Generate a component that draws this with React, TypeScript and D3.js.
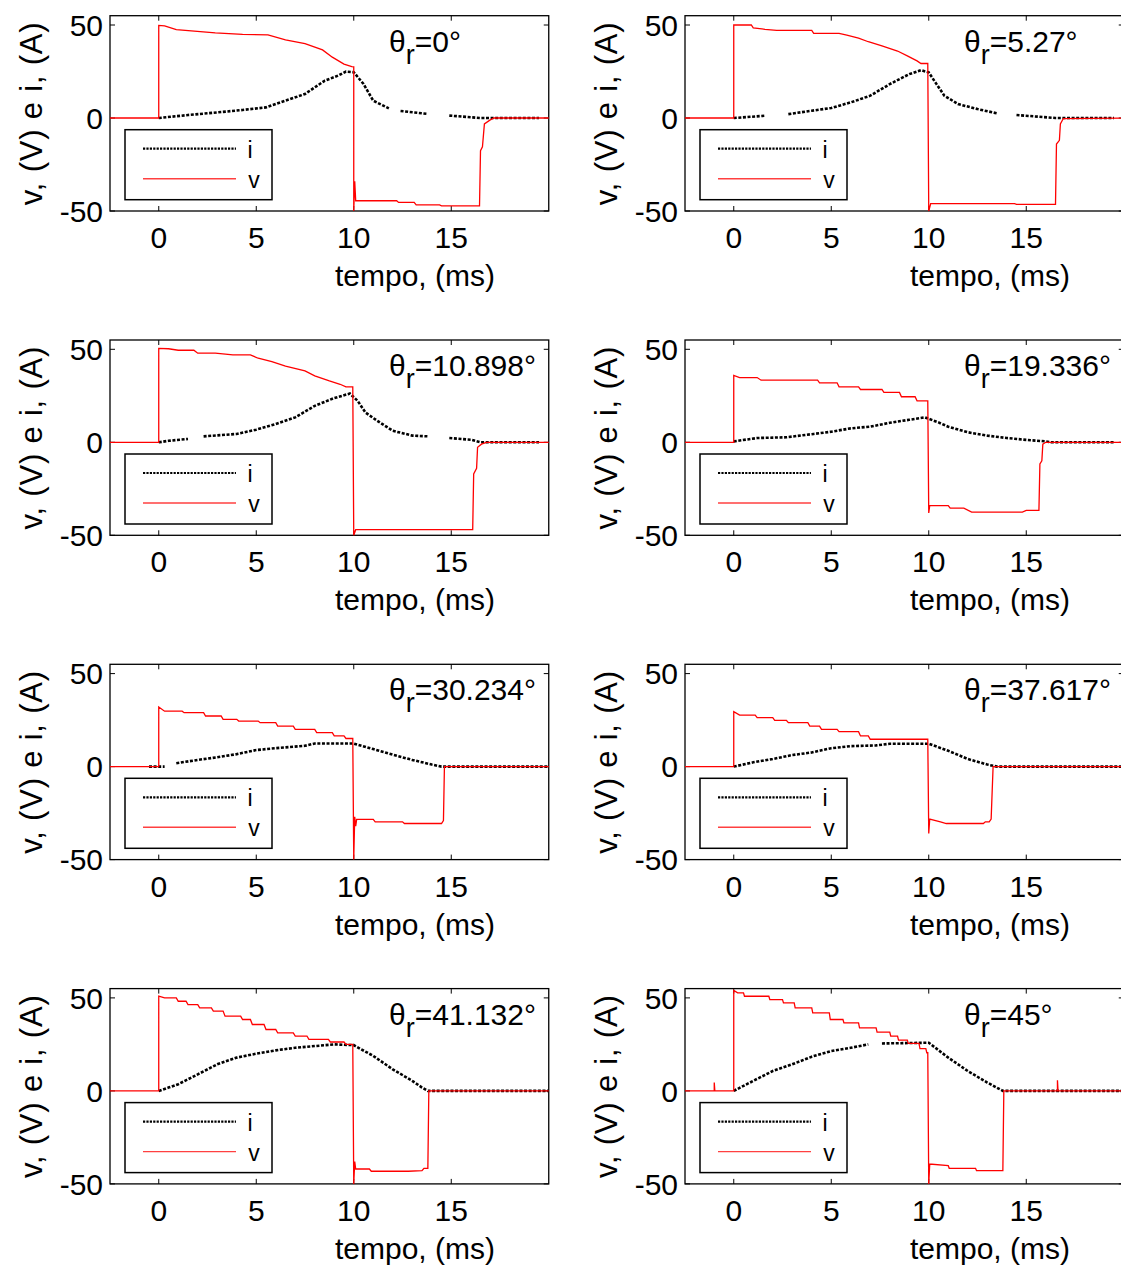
import React from "react";
import * as d3 from "d3";

type P = [number, number];

const xTicks = [0, 5, 10, 15];
const yTicks = [50, 0, -50];
const xDomain: [number, number] = [-2.5, 20];
const yDomain: [number, number] = [-50, 55];
const thetaLabels = ["0", "5.27", "10.898", "19.336", "30.234", "37.617", "41.132", "45"];
const seriesNames = ["i", "v"];

// θr = 0°
const v_0: P[] = [[-2.5,0],[0,0],[0,49.8],[0.3,49.5],[0.9,47.5],[2.9,45.8],[4.3,45],[5.6,44.7],[6.5,42],[7.5,40],[8.4,36.6],[8.9,32.7],[9.5,29],[9.9,27.6],[10,27.5],[10,-50],[10.05,-34],[10.1,-44.5],[12.2,-44.5],[12.3,-45.4],[13.1,-45.4],[13.2,-46.7],[14.4,-46.7],[14.5,-47.2],[16.45,-47.2],[16.5,-17.6],[16.6,-15.5],[16.7,-3.2],[17,-1],[17.2,0],[20,0]];
const i_0: P[] = [[0,0],[1.5,1.6],[3,3],[4.3,4.3],[5.5,5.7],[6.5,9.3],[7.5,12.9],[8.5,20],[9.2,22.8],[9.6,25],[10,24.6],[10.5,18.3],[11,9.3],[11.7,5.7],[11.8,5.2],[12,NaN],[12.4,3.8],[13.8,2.2],[14.3,NaN],[14.9,1.3],[16.5,0],[19.5,0]];
// θr = 5.27°
const v_527: P[] = [[-2.5,0],[0,0],[0,50],[0.9,50],[1,48.5],[1.6,47.7],[2.2,47.1],[4,47.1],[4.1,45.5],[5.4,45.5],[5.8,44.5],[6.4,42.9],[6.9,41],[7.6,38.8],[8.4,36],[8.9,33.4],[9.4,30.7],[9.6,29.3],[9.95,29.3],[10,-50],[10.1,-46],[14.4,-46],[14.5,-46.4],[16.5,-46.4],[16.55,-14],[16.7,-12],[16.75,-3.2],[16.9,-0.3],[20,0]];
const i_527: P[] = [[0,0],[1.6,1.2],[2.2,NaN],[2.8,2.1],[4,3.9],[5,5.4],[6,8.4],[7,12],[8,18.2],[9,23.6],[9.6,25.7],[10,24.5],[10.4,18.2],[10.8,12],[11.5,7.5],[12.5,4.8],[13.5,2.5],[14,NaN],[14.5,1.6],[16.5,0],[19.5,0]];
// θr = 10.898°
const v_10898: P[] = [[-2.5,0],[0,0],[0,50.5],[0.5,50.3],[1,49.5],[1.8,49.5],[2,47.9],[2.9,47.9],[3.8,47],[4.7,47],[5.1,45.2],[5.8,43.4],[6.5,41],[7.5,38.4],[8,35.7],[8.75,33],[9.3,31.2],[9.6,29.8],[9.95,29.8],[10,-50],[10.1,-47],[16.1,-47],[16.15,-17],[16.3,-14],[16.35,-2.7],[16.55,-1],[16.8,0],[20,0]];
const i_10898: P[] = [[0,0],[0.5,0.8],[1.5,1.8],[1.9,NaN],[2.3,3.2],[4,4.5],[5,6.8],[6,9.8],[7,13.4],[8,19.6],[9,23.8],[9.8,26.2],[10.2,22.3],[10.6,16],[11.2,11.6],[12,6.2],[13,3.6],[13.8,3.2],[14.3,NaN],[14.9,2.3],[16,1.4],[16.5,0],[19.5,0]];
// θr = 19.336°
const v_19336: P[] = [[-2.5,0],[0,0],[0,36],[0.3,34.8],[1.2,34.8],[1.4,33.4],[4.3,33.4],[4.4,32],[5.3,32],[5.4,29.8],[6.4,29.8],[6.5,28.4],[7.6,28.4],[7.7,26.8],[8.5,26.8],[8.6,24.5],[9.3,24.5],[9.4,22.3],[9.95,22.3],[10,-38],[10.05,-34],[11,-34],[11.1,-35.4],[11.8,-35.4],[12.2,-37.5],[14.8,-37.5],[15,-36.6],[15.65,-36.6],[15.7,-11.6],[15.8,-10],[15.85,-1],[16,0],[20,0]];
const i_19336: P[] = [[0,0.5],[1.2,2.3],[2.7,2.7],[4.1,4.5],[5,5.7],[6,7.5],[7,8.4],[8,10.5],[9,12.1],[9.8,13.4],[10.5,10.7],[11,8.4],[12,5.4],[13,3.6],[14,2.3],[15,1.3],[16,0.5],[16.3,0],[19.5,0]];
// θr = 30.234°
const v_30234: P[] = [[-2.5,0],[0,0],[0,32],[0.3,29.8],[1.2,29.8],[1.3,29],[2.3,29],[2.4,27.2],[3.2,27.2],[3.3,25.4],[4,25.4],[4.1,24.5],[5.1,24.5],[5.2,23.6],[6,23.6],[6.1,21.8],[6.9,21.8],[7,20],[8,20],[8.1,18.3],[8.9,18.3],[9,16.5],[9.5,16.5],[9.6,15.1],[9.95,15.1],[10,-50],[10.05,-27],[10.1,-32],[10.15,-28.4],[11,-28.4],[11.1,-29.7],[12.5,-29.7],[12.6,-30.6],[14.5,-30.6],[14.6,-29],[14.65,0],[20,0]];
const i_30234: P[] = [[-0.5,0],[0.3,0],[0.6,NaN],[0.9,1.8],[2,3.6],[3,5],[4,6.7],[5,8.9],[6,9.9],[7.5,11.2],[8,12.4],[10,12.4],[11,9.4],[12,6.4],[13,3.6],[14,1.1],[14.5,0],[20,0]];
// θr = 37.617°
const v_37617: P[] = [[-2.5,0],[0,0],[0,29.5],[0.3,27.7],[1.1,27.7],[1.2,26.3],[2,26.3],[2.1,24.9],[2.7,24.9],[2.8,23.6],[3.8,23.6],[3.9,21.8],[4.4,21.8],[4.5,20],[5.3,20],[5.4,18.8],[6.4,18.8],[6.5,16.5],[6.9,16.5],[7,14.7],[9.95,14.7],[10,-36],[10.05,-28.2],[10.6,-29.7],[10.9,-30.6],[12.8,-30.6],[12.9,-29.7],[13.1,-29.7],[13.2,-28.2],[13.3,0],[20,0]];
const i_37617: P[] = [[0,0],[1,2.3],[2,4.1],[3,6.2],[4,7.6],[5,9.9],[6,11],[7.3,11.4],[8,12.3],[10,12.3],[11,8.5],[12,4.1],[13,1.1],[13.5,0],[20,0]];
// θr = 41.132°
const v_41132: P[] = [[-2.5,0],[0,0],[0,50.9],[0.3,50],[0.9,50],[1,48.2],[1.4,48.2],[1.5,46.4],[2,46.4],[2.1,44.6],[2.7,44.6],[2.8,42.9],[3.3,42.9],[3.4,40.2],[4.2,40.2],[4.3,38.4],[4.7,38.4],[4.8,35.7],[5.4,35.7],[5.5,33],[6,33],[6.1,31.2],[6.9,31.2],[7,29.5],[7.6,29.5],[7.7,27.7],[8.7,27.7],[8.8,26.3],[9.5,26.3],[9.6,25],[9.95,25],[10,-50],[10.05,-38],[10.1,-42],[10.8,-42],[10.9,-43.2],[12.8,-43.2],[13.5,-42.9],[13.6,-41.6],[13.8,-41.6],[13.85,0],[20,0]];
const i_41132: P[] = [[0,0],[0.5,1.8],[1,3.6],[2,8.9],[3,14.3],[4,17.9],[5,20],[6,21.8],[7,23.2],[8,24.1],[9,25],[10,24.6],[11,18.8],[12,11.6],[13,5.4],[13.5,1.8],[13.8,0],[20,0]];
// θr = 45°
const v_45: P[] = [[-2.5,0],[-1,0],[-1,4.5],[-0.97,0],[0,0],[0,54],[0.2,52.7],[0.5,52.7],[0.55,50.9],[1.8,50.9],[1.85,49.1],[2.5,49.1],[2.55,47.3],[3.1,47.3],[3.15,44.6],[4,44.6],[4.05,42],[4.9,42],[4.95,38.4],[5.6,38.4],[5.65,36.6],[6.4,36.6],[6.45,33.9],[7.3,33.9],[7.35,31.6],[8,31.6],[8.05,29.5],[8.4,29.5],[8.45,27.3],[8.9,27.3],[8.95,25.5],[9.5,25.5],[9.55,22.7],[9.85,22.7],[9.9,20.5],[9.95,20.5],[10,-50],[10.05,-39.3],[11,-40.2],[11.05,-41.6],[12.4,-41.6],[12.45,-42.9],[13.8,-42.9],[13.85,0],[16.6,0],[16.6,5.7],[16.63,0],[20,0]];
const i_45: P[] = [[0,0],[1,5.4],[2,10.7],[3,14.3],[4,18.4],[5,21.4],[6,23.2],[6.9,25],[7.2,NaN],[7.6,25.5],[10,25.9],[11,17.9],[12,10.7],[13,4.5],[13.8,0],[20,0]];

const vSeries = [v_0, v_527, v_10898, v_19336, v_30234, v_37617, v_41132, v_45];
const iSeries = [i_0, i_527, i_10898, i_19336, i_30234, i_37617, i_41132, i_45];

const FONT = "'Liberation Sans', Arial, Helvetica, sans-serif";
const W = 1121;
const H = 1269;
const colLeft = [110, 685];
const plotW = 438.75;
const rowTop0 = 15.7;
const rowStep = 324.3;
const plotH = 195.3;
const tickLen = 5;

function Panel({ idx }: { idx: number }) {
  const col = idx % 2;
  const row = Math.floor(idx / 2);
  const left = colLeft[col];
  const top = rowTop0 + row * rowStep;
  const x = d3.scaleLinear().domain(xDomain).range([left, left + plotW]);
  const y = d3.scaleLinear().domain(yDomain).range([top + plotH, top]);
  const line = d3
    .line<P>()
    .defined((d) => !isNaN(d[1]))
    .x((d) => x(d[0]))
    .y((d) => y(d[1]));
  const bottom = y(yDomain[0]);
  const right = x(xDomain[1]);
  const legX = left + 15;
  const legY = top + 114;
  return (
    <g>
      <rect x={left} y={top} width={plotW} height={plotH} fill="none" stroke="#000" strokeWidth={1.3} />
      {xTicks.map((t) => (
        <g key={"xt" + t}>
          <line x1={x(t)} x2={x(t)} y1={bottom} y2={bottom - tickLen} stroke="#000" strokeWidth={1} />
          <line x1={x(t)} x2={x(t)} y1={top} y2={top + tickLen} stroke="#000" strokeWidth={1} />
          <text x={x(t)} y={bottom + 37} textAnchor="middle" fontSize={30} fontFamily={FONT}>{t}</text>
        </g>
      ))}
      {yTicks.map((t) => (
        <g key={"yt" + t}>
          <line x1={left} x2={left + tickLen} y1={y(t)} y2={y(t)} stroke="#000" strokeWidth={1} />
          <line x1={right} x2={right - tickLen} y1={y(t)} y2={y(t)} stroke="#000" strokeWidth={1} />
          <text x={left - 7} y={y(t)} dy="0.36em" textAnchor="end" fontSize={30} fontFamily={FONT}>{t}</text>
        </g>
      ))}
      <path d={line(iSeries[idx]) || ""} fill="none" stroke="#000" strokeWidth={2.6} strokeDasharray="3 1.6" />
      <path d={line(vSeries[idx]) || ""} fill="none" stroke="#ff0000" strokeWidth={1.3} />
      <text x={left + 279} y={top + 36} fontSize={30} fontFamily={FONT}>
        θ<tspan dy={12} fontSize={27}>r</tspan><tspan dy={-12}>={thetaLabels[idx]}°</tspan>
      </text>
      <rect x={legX} y={legY} width={147} height={70} fill="#fff" stroke="#000" strokeWidth={1.5} />
      <line x1={legX + 18} x2={legX + 111} y1={legY + 19} y2={legY + 19} stroke="#000" strokeWidth={2.2} strokeDasharray="2.2 1.2" />
      <text x={legX + 125} y={legY + 28} fontSize={23} fontFamily={FONT} textAnchor="middle">{seriesNames[0]}</text>
      <line x1={legX + 18} x2={legX + 111} y1={legY + 49} y2={legY + 49} stroke="#ff4040" strokeWidth={1.4} />
      <text x={legX + 129} y={legY + 58} fontSize={23} fontFamily={FONT} textAnchor="middle">{seriesNames[1]}</text>
      <text x={left + 305} y={bottom + 75} textAnchor="middle" fontSize={30} fontFamily={FONT}>tempo, (ms)</text>
      <text transform={`translate(${left - 68},${top + plotH / 2}) rotate(-90)`} textAnchor="middle" fontSize={31} fontFamily={FONT} letterSpacing={0.8}>
        v, (V) e i, (A)
      </text>
    </g>
  );
}

export default function App() {
  return (
    <svg width={W} height={H} style={{ position: "absolute", left: 0, top: 0, display: "block", background: "#fff" }}>
      <rect x={0} y={0} width={W} height={H} fill="#fff" />
      {thetaLabels.map((_, k) => (
        <Panel key={k} idx={k} />
      ))}
    </svg>
  );
}
